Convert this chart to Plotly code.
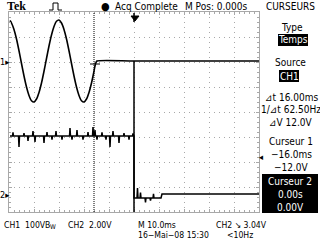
import plotly.graph_objects as go

W, H = 320, 240
# plot area in pixels
X0, X1, Y0, Y1 = 9, 259, 12, 212

# ---- data (time in ms, 10 ms/div; volts) ----
ch1_scale = 100.0   # V/div
ch2_scale = 2.0     # V/div
ch1_ground_div = 2.0
ch2_ground_div = -3.32

ch1_t = [-49.6, -49, -48, -47, -46, -45, -44, -43, -42, -41, -40, -39, -38, -37, -36,
         -35, -34, -33, -32, -31, -30, -29, -28, -27, -26, -25, -24, -23, -22, -21,
         -20, -19, -18, -17, -16, -15.6, -15.2, -14.8, 0, 50]
ch1_v = [166, 156, 130, 92, 45, -6, -56, -100, -134, -155, -160, -148, -122, -84, -37,
         14, 64, 108, 142, 163, 168, 156, 130, 92, 45, -6, -56, -100, -134, -155,
         -160, -148, -122, -84, -37, -16, -2, 4, 4, 4]

ch2_base_pre = 4.72
ch2_spike_t = [-48.4, -46.0, -44.0, -42.4, -40.4, -39.6, -36.0, -34.8, -32.8, -31.2,
               -28.8, -25.6, -24.8, -22.8, -20.4, -18.4, -16.4, -15.6, -14.8, -12.8,
               -11.2, -9.6, -8.4, -6.0, -4.0, -2.0, -0.4]
ch2_spike_dv = [0.30, -0.88, 0.24, -0.40, 0.40, -0.48, -0.56, 0.32, -0.30, 0.40,
                -0.30, 0.64, -0.30, 0.48, -0.30, 0.32, 0.72, 0.48, -0.30, 0.30,
                -0.30, -0.88, 0.40, -0.56, 0.24, -0.30, 0.20]
ch2_post_t = [0.0, 1.2, 1.4, 1.6, 2.4, 2.6, 2.8, 4.4, 4.6, 4.8, 6.4, 6.6, 6.8, 7.6, 7.8, 8.0,
              10.8, 11.2, 50]
ch2_post_v = [-0.24, -0.24, 0.56, -0.24, -0.24, 0.20, -0.24, -0.24, -0.60, -0.24,
              -0.24, -0.45, -0.24, -0.24, 0.10, -0.24, -0.24, 0.08, 0.08]

cursor1_t = -16.0
cursor2_t = 0.0
trigger_level_v = 3.04

# ---- build traces ----
def d1(v):
    return ch1_ground_div + v / ch1_scale

def d2(v):
    return ch2_ground_div + v / ch2_scale

ch2_t, ch2_v = [-49.6], [ch2_base_pre]
for t, dv in zip(ch2_spike_t, ch2_spike_dv):
    ch2_t += [t - 0.2, t, t + 0.2]
    ch2_v += [ch2_base_pre, ch2_base_pre + dv, ch2_base_pre]
ch2_t += [0.0] + ch2_post_t
ch2_v += [ch2_base_pre] + ch2_post_v

fig = go.Figure()
fig.add_trace(go.Scatter(x=ch1_t, y=[d1(v) for v in ch1_v], mode="lines",
                         line=dict(color="black", width=1.6, shape="spline", smoothing=0.6),
                         hoverinfo="skip"))
fig.add_trace(go.Scatter(x=ch2_t, y=[d2(v) for v in ch2_v], mode="lines",
                         line=dict(color="black", width=1.5),
                         hoverinfo="skip"))

# cursors
fig.add_shape(type="line", x0=cursor1_t, x1=cursor1_t, y0=-4, y1=4, xref="x", yref="y",
              line=dict(color="black", width=1, dash="1px,1px"))
fig.add_shape(type="line", x0=cursor2_t, x1=cursor2_t, y0=d1(4), y1=-4, xref="x", yref="y",
              line=dict(color="black", width=1.5))
# cursor 1 mark on waveform
fig.add_shape(type="line", x0=cursor1_t - 1.6, x1=cursor1_t + 2.4, y0=d1(-8), y1=d1(-8),
              xref="x", yref="y", line=dict(color="black", width=1))

def px(x):
    return x / W

def py(y):
    return 1 - y / H

# trigger position marker at top
fig.add_shape(type="line", xref="x", yref="paper", x0=0, x1=0, y0=py(13), y1=py(22),
              line=dict(color="black", width=1.5))
fig.add_shape(type="path", xref="paper", yref="paper",
              path=f"M{px(131)},{py(16)} L{px(139)},{py(16)} L{px(135)},{py(21)} Z",
              fillcolor="black", line=dict(color="black", width=1))

# acquisition pulse icon
fig.add_shape(type="path", xref="paper", yref="paper",
              path=f"M{px(49)},{py(10)} L{px(53)},{py(10)} L{px(53)},{py(3)} L{px(58)},{py(3)} L{px(58)},{py(10)} L{px(62)},{py(10)}",
              line=dict(color="black", width=1))

# black boxes
for (bx0, by0, bx1, by1) in [(278, 34, 308, 46), (279, 70, 299, 82), (262, 174, 318, 213)]:
    fig.add_shape(type="rect", xref="paper", yref="paper", x0=px(bx0), x1=px(bx1),
                  y0=py(by1), y1=py(by0), fillcolor="black", line=dict(width=0))

FONT = "Liberation Sans Narrow, DejaVu Sans Condensed, Arial Narrow, sans-serif"

def txt(x, y, s, anchor="center", color="black", size=10, family=FONT, weight="normal"):
    fig.add_annotation(x=px(x), y=py(y), xref="paper", yref="paper", text=s, showarrow=False,
                       xanchor=anchor, yanchor="middle",
                       font=dict(family=family, size=size, color=color, weight=weight))

txt(16, 6, "Tek", size=12, family="Liberation Serif, DejaVu Serif, serif", weight="bold")
txt(105, 6, "●", size=11)
txt(113, 6, "Acq Complete", anchor="left")
txt(183, 6, "M Pos: 0.000s", anchor="left")
txt(290, 6, "CURSEURS")
txt(292, 27, "Type")
txt(293, 40, "Temps", color="white")
txt(290, 63, "Source")
txt(289, 76, "CH1", color="white")
txt(291, 97, "⊿t 16.00ms")
txt(291, 110, "1/⊿t 62.50Hz")
txt(291, 122, "⊿V 12.0V")
txt(291, 141, "Curseur 1")
txt(291, 154, "−16.0ms")
txt(291, 167, "−12.0V")
txt(290, 181, "Curseur 2", color="white")
txt(290, 194, "0.00s", color="white")
txt(290, 207, "0.00V", color="white")
BS = 8.6
txt(2, 225, "CH1  100VB", anchor="left", size=BS)
txt(48, 227, "W", anchor="left", size=6.5)
txt(66, 225, "CH2  2.00V", anchor="left", size=BS)
txt(136, 225, "M 10.0ms", anchor="left", size=BS)
txt(214, 225, "CH2 ↘ 3.04V", anchor="left", size=BS)
txt(136, 235, "16−Mai−08 15:30", anchor="left", size=BS)
txt(225, 235, "<10Hz", anchor="left", size=BS)
txt(5, 62, "1▸", size=9)
txt(5, 195, "2▸", size=9)
txt(261, 157, "◂", size=9)

GRID = "#a8a8a8"
fig.update_layout(
    width=W, height=H, margin=dict(l=0, r=0, t=0, b=0),
    paper_bgcolor="white", plot_bgcolor="white", showlegend=False,
    xaxis=dict(domain=[px(X0), px(X1)], range=[-50, 50], dtick=10, tick0=0,
               showgrid=True, gridcolor=GRID, griddash="1px,4px", gridwidth=1,
               showline=True, linecolor=GRID, linewidth=1, mirror="ticks",
               ticks="inside", ticklen=3, tickcolor=GRID, showticklabels=False,
               minor=dict(dtick=2, ticks="inside", ticklen=2, tickcolor=GRID),
               zeroline=False, fixedrange=True),
    yaxis=dict(domain=[py(Y1), py(Y0)], range=[-4, 4], dtick=1, tick0=0,
               showgrid=True, gridcolor=GRID, griddash="1px,4px", gridwidth=1,
               showline=True, linecolor=GRID, linewidth=1, mirror="ticks",
               ticks="inside", ticklen=3, tickcolor=GRID, showticklabels=False,
               minor=dict(dtick=0.2, ticks="inside", ticklen=2, tickcolor=GRID),
               zeroline=False, fixedrange=True),
)

fig.write_html("out.html", config={"displayModeBar": False, "staticPlot": True},
               post_script="document.body.style.margin='0';")
